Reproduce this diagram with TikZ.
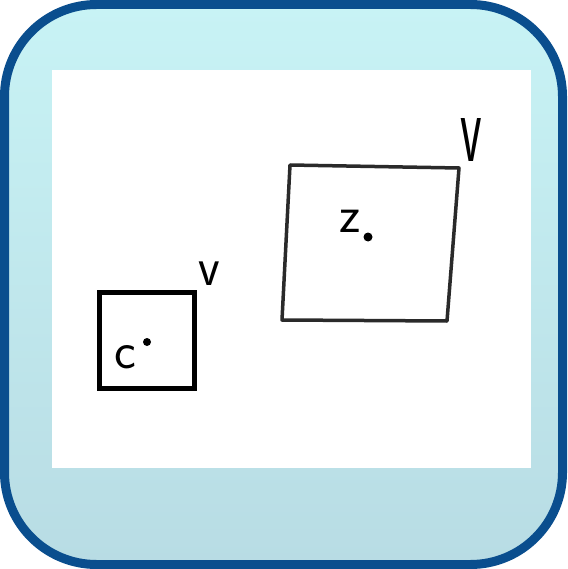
\documentclass[tikz,border=0pt]{standalone}
\usepackage{tikz}
\usetikzlibrary{positioning,calc}
\definecolor{frameblue}{HTML}{0A4E8E}
\definecolor{skytop}{HTML}{C8F3F5}
\definecolor{skybot}{HTML}{B8DCE4}
\definecolor{inkgray}{HTML}{2A2A2A}

\begin{document}
\begin{tikzpicture}[
  x=1pt, y=-1pt,
  font=\sffamily,
  lbl/.style={inner sep=0pt, text=black, font=\sffamily\fontsize{52}{52}\selectfont},
  tick/.style={inner sep=0pt, text=black, font=\sffamily\fontsize{50}{50}\selectfont},
  pt/.style={fill=black, draw=none},
]
  \useasboundingbox (0,0) rectangle (567,569);
  % frame and paper
  \path[draw=frameblue, line width=9pt, top color=skytop, bottom color=skybot, rounded corners=92pt]
    (4.5,4.5) rectangle (562.5,564.5);
  \fill[white] (52,70) rectangle (531,468);

  % small square
  \draw[line width=5pt, black] (99,292) rectangle (194,388);
  \node[lbl] (cc) at (125,357) {c};
  \fill[pt] (147,342) circle (4pt);
  \node[tick, yscale=1.1] (vc) at (209,274) {v};

  % big square, hand drawn
  \coordinate (tl) at (290,165);
  \coordinate (tr) at (459,168);
  \coordinate (br) at (447,321);
  \coordinate (bl) at (282,320);
  \draw[line width=3.5pt, inkgray, line join=round] (tl) -- (tr) -- (br) -- (bl) -- cycle;
  \node[lbl] (zz) at (350,221) {z};
  \fill[pt] (368,237) circle (4.5pt);
  \node[tick, yscale=2] (vz) at (471,140) {v};
\end{tikzpicture}
\end{document}
